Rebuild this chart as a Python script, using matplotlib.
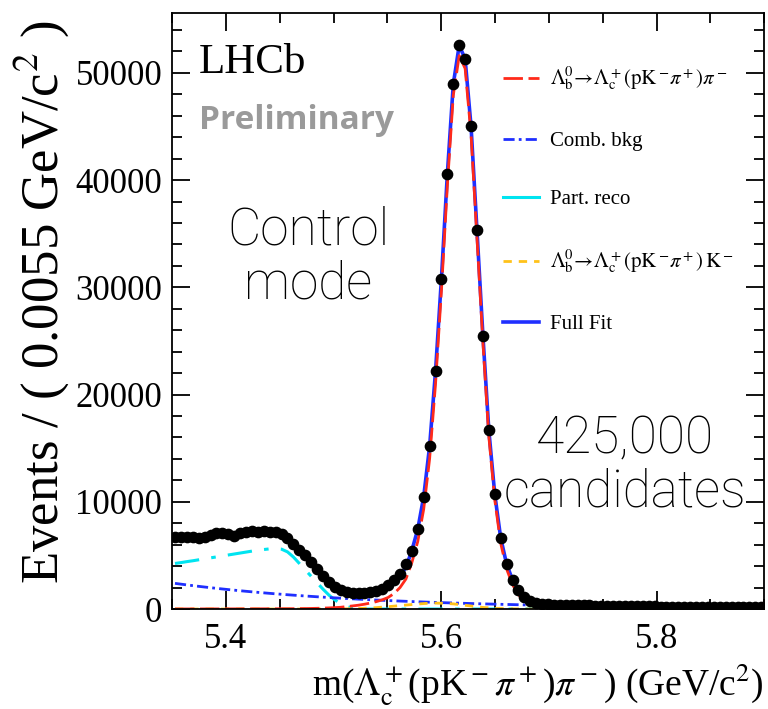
import numpy as np
import matplotlib.pyplot as plt
from matplotlib.lines import Line2D
from matplotlib.ticker import MultipleLocator

plt.rcParams['font.family'] = ['Liberation Serif', 'DejaVu Serif']
plt.rcParams['mathtext.fontset'] = 'stix'

# binning: 100 bins of 0.0055 GeV between 5.35 and 5.90
m_lo, m_hi, nbins = 5.35, 5.90, 100
width = (m_hi - m_lo) / nbins
mass = m_lo + width * (np.arange(nbins) + 0.5)

# data points (events / bin)
data = [6700, 6720, 6760, 6700, 6650, 6750, 6900, 7050, 7100, 7000,
        6800, 7050, 7200, 7250, 7200, 7250, 7150, 7200, 7000, 6650,
        6100, 5550, 5000, 4350, 3750, 3050, 2550, 2100, 1750, 1550,
        1480, 1450, 1470, 1550, 1680, 1870, 2200, 2700, 3300, 4200,
        5450, 7450, 10450, 15200, 22200, 30800, 40600, 49000, 52600, 51300,
        45000, 35300, 25500, 16700, 10700, 6650, 4200, 2700, 1800, 1150,
        780, 600, 500, 450, 420, 400, 385, 370, 355, 345,
        335, 320, 315, 300, 295, 285, 280, 270, 262, 255,
        250, 240, 235, 228, 222, 215, 210, 205, 200, 195,
        190, 186, 180, 176, 172, 168, 163, 160, 156, 152]

# fit components evaluated at bin centres
sig = [8, 9, 9, 10, 10, 11, 12, 12, 13, 14,
       15, 16, 17, 18, 19, 21, 22, 24, 26, 28,
       32, 38, 45, 55, 68, 85, 105, 130, 165, 230,
       290, 360, 450, 560, 690, 860, 1080, 1450, 2000, 2800,
       4330, 6300, 9300, 14000, 21000, 29700, 39500, 47900, 51600, 50400,
       44200, 34600, 24900, 16100, 10200, 6150, 3740, 2270, 1340, 700,
       400, 240, 150, 110, 90, 75, 66, 60, 56, 52,
       50, 49, 48, 47, 46, 45, 44, 43, 42, 41,
       40, 39, 38, 37, 36, 36, 35, 35, 34, 34,
       33, 33, 32, 32, 31, 31, 31, 30, 30, 30]

comb = [2393, 2320, 2250, 2182, 2116, 2052, 1990, 1929, 1871, 1814,
        1759, 1706, 1654, 1604, 1555, 1508, 1462, 1418, 1375, 1333,
        1293, 1254, 1216, 1179, 1143, 1108, 1075, 1042, 1011, 980,
        950, 921, 894, 866, 840, 815, 790, 766, 743, 720,
        698, 677, 657, 637, 618, 599, 581, 563, 546, 530,
        514, 498, 483, 468, 454, 440, 427, 414, 401, 389,
        377, 366, 355, 344, 334, 324, 314, 304, 295, 286,
        277, 269, 261, 253, 245, 238, 231, 224, 217, 210,
        204, 198, 192, 186, 180, 175, 170, 164, 159, 155,
        150, 145, 141, 137, 133, 129, 125, 121, 117, 114]

partreco = [4250, 4330, 4420, 4500, 4590, 4680, 4770, 4860, 4950, 5040,
            5130, 5220, 5310, 5400, 5480, 5550, 5610, 5640, 5580, 5330,
            4850, 4250, 3650, 3050, 2450, 1850, 1300, 850, 500, 250,
            80] + [0] * 69

kmode = [0] * 26 + [5, 8, 12, 20, 30, 50, 70, 100, 130, 180,
                    220, 270, 320, 370, 420, 470, 510, 540, 550, 540,
                    520, 480, 420, 350, 280, 210, 150, 110, 70, 50,
                    30, 20, 10, 5] + [0] * 40

total = np.array(sig) + np.array(comb) + np.array(partreco) + np.array(kmode)

fig = plt.figure(figsize=(7.68, 7.09), dpi=100)
ax = fig.add_axes([0.224, 0.141, 0.771, 0.841])

c_red, c_blue, c_cyan, c_orange = '#ff2a1a', '#1f2fff', '#00e4f0', '#ffc21a'

ax.plot(mass, partreco, color=c_cyan, lw=2.2, ls=(0, (8, 4, 1.5, 4)))
ax.plot(mass, comb, color=c_blue, lw=2.0, ls=(0, (4, 1.5, 1, 1.5)))
ax.plot(mass, kmode, color=c_orange, lw=2.0, ls=(0, (3, 2.5)))
ax.plot(mass, total, color=c_blue, lw=2.6)
ax.plot(mass, sig, color=c_red, lw=2.0, ls=(0, (7, 2)))
ax.plot(mass, data, 'o', color='black', ms=7.4, zorder=5)

ax.set_xlim(m_lo, m_hi)
ax.set_ylim(0, 55600)
ax.xaxis.set_major_locator(MultipleLocator(0.2))
ax.xaxis.set_minor_locator(MultipleLocator(0.05))
ax.yaxis.set_major_locator(MultipleLocator(10000))
ax.yaxis.set_minor_locator(MultipleLocator(2000))
ax.tick_params(which='both', direction='in', top=True, right=True,
               labelsize=25, width=1.3)
ax.tick_params(which='major', length=13)
ax.tick_params(which='minor', length=7)
ax.tick_params(axis='x', pad=10)
ax.tick_params(axis='y', pad=7)
for s in ax.spines.values():
    s.set_linewidth(1.3)

ax.set_ylabel(r'Events / ( 0.0055 GeV/c$^2$ )', fontsize=38)
ax.yaxis.set_label_coords(-0.17, 0.514)
ax.set_xlabel(r'm($\Lambda_\mathrm{c}^+$(pK$^-\pi^+$)$\pi^-$) (GeV/c$^2$)',
              fontsize=27, loc='right')

handles = [
    Line2D([], [], color=c_red, lw=2.0, ls=(0, (7, 2))),
    Line2D([], [], color=c_blue, lw=2.0, ls=(0, (4, 1.5, 1, 1.5))),
    Line2D([], [], color=c_cyan, lw=2.2),
    Line2D([], [], color=c_orange, lw=2.0, ls=(0, (3, 2.5))),
    Line2D([], [], color=c_blue, lw=2.6),
]
labels = [r'$\Lambda_\mathrm{b}^0\!\rightarrow\!\Lambda_\mathrm{c}^+(\mathrm{pK}^-\!\pi^+)\pi^-$',
          'Comb. bkg',
          'Part. reco',
          r'$\Lambda_\mathrm{b}^0\!\rightarrow\!\Lambda_\mathrm{c}^+(\mathrm{pK}^-\!\pi^+)\,\mathrm{K}^-$',
          'Full Fit']
ax.legend(handles, labels, loc='upper left', bbox_to_anchor=(0.53, 0.94),
          frameon=False, fontsize=15, handlelength=1.75, handletextpad=0.55,
          labelspacing=1.85, borderpad=0.3)

ax.text(0.045, 0.917, 'LHCb', transform=ax.transAxes, fontsize=31,
        ha='left', va='center')
ax.text(0.045, 0.82, 'Preliminary', transform=ax.transAxes, fontsize=24,
        family='Open Sans', weight='bold', color='#9a9a9a', ha='left',
        va='center')
ax.text(0.23, 0.59, 'Control\nmode', transform=ax.transAxes, fontsize=37,
        family='Roboto', weight='light', ha='center', va='center',
        linespacing=1.1)
ax.text(0.765, 0.24, '425,000\ncandidates', transform=ax.transAxes,
        fontsize=37, family='Roboto', weight='light', ha='center',
        va='center', linespacing=1.1)

fig.savefig('out.png', dpi=100)
